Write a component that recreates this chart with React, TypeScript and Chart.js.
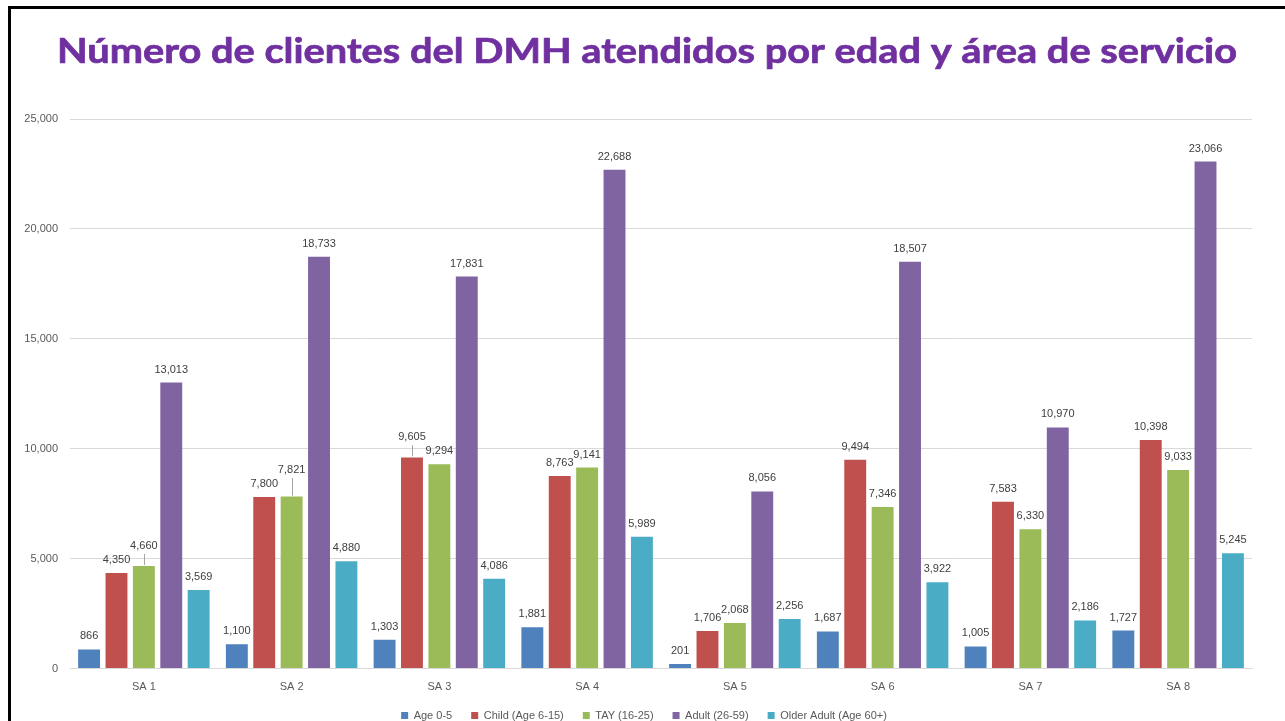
import React, { useEffect, useRef } from 'react';
import { Chart, registerables } from 'chart.js';

Chart.register(...registerables);

const TITLE = 'Número de clientes del DMH atendidos por edad y área de servicio';
const categories = ['SA 1', 'SA 2', 'SA 3', 'SA 4', 'SA 5', 'SA 6', 'SA 7', 'SA 8'];
const seriesNames = ['Age 0-5', 'Child (Age 6-15)', 'TAY (16-25)', 'Adult (26-59)', 'Older Adult (Age 60+)'];
const age0to5 = [866, 1100, 1303, 1881, 201, 1687, 1005, 1727];
const child6to15 = [4350, 7800, 9605, 8763, 1706, 9494, 7583, 10398];
const tay16to25 = [4660, 7821, 9294, 9141, 2068, 7346, 6330, 9033];
const adult26to59 = [13013, 18733, 17831, 22688, 8056, 18507, 10970, 23066];
const olderAdult60 = [3569, 4880, 4086, 5989, 2256, 3922, 2186, 5245];
const seriesColors = ['#4F81BD', '#C0504D', '#9BBB59', '#8064A2', '#4BACC6'];
const yMax = 25000;
const yStep = 5000;

const FONT = '"Liberation Sans", Arial, sans-serif';
const fmt = (v: number) => v.toLocaleString('en-US');

const titlePlugin = {
  id: 'slideTitle',
  afterDraw(chart: any) {
    const ctx = chart.ctx;
    ctx.save();
    ctx.font = `bold 35px Lato, "Open Sans", sans-serif`;
    ctx.fillStyle = '#7030A0';
    ctx.strokeStyle = '#7030A0';
    ctx.lineWidth = 0.7;
    ctx.lineJoin = 'round';
    ctx.textBaseline = 'alphabetic';
    ctx.textAlign = 'left';
    const w = ctx.measureText(TITLE).width;
    const targetW = 1180;
    const sx = targetW / w;
    ctx.translate(57, 63);
    ctx.scale(sx, 1);
    ctx.fillText(TITLE, 0, 0);
    ctx.strokeText(TITLE, 0, 0);
    ctx.restore();
  },
};

const legendShiftPlugin = {
  id: 'legendShift',
  afterLayout(chart: any) {
    if (chart.legend) {
      chart.legend.left += 24;
    }
  },
};

const labelPlugin = {
  id: 'barValueLabels',
  afterDatasetsDraw(chart: any) {
    const ctx = chart.ctx;
    ctx.save();
    ctx.font = `11px ${FONT}`;
    ctx.textAlign = 'center';
    ctx.textBaseline = 'middle';
    const n = chart.data.labels.length;
    for (let i = 0; i < n; i++) {
      const items = chart.data.datasets.map((ds: any, d: number) => {
        const el = chart.getDatasetMeta(d).data[i];
        return { x: el.x, top: el.y, y: el.y - 13, v: ds.data[i] as number, leader: false };
      });
      for (let d = 1; d < items.length; d++) {
        const a = items[d - 1];
        const b = items[d];
        if (Math.abs(a.y - b.y) < 7.5) {
          const hi = a.top < b.top ? a : b;
          const lo = hi === a ? b : a;
          hi.y = lo.y - 14;
          hi.leader = true;
        }
      }
      for (const it of items) {
        if (it.leader) {
          ctx.strokeStyle = '#a6a6a6';
          ctx.lineWidth = 1;
          ctx.beginPath();
          ctx.moveTo(Math.round(it.x) + 0.5, it.y + 8);
          ctx.lineTo(Math.round(it.x) + 0.5, it.top - 1);
          ctx.stroke();
        }
        ctx.fillStyle = '#404040';
        ctx.fillText(fmt(it.v), it.x, it.y);
      }
    }
    ctx.restore();
  },
};

export default function App() {
  const ref = useRef<HTMLCanvasElement | null>(null);

  useEffect(() => {
    if (!ref.current) return;
    const values = [age0to5, child6to15, tay16to25, adult26to59, olderAdult60];
    const chart = new Chart(ref.current, {
      type: 'bar',
      data: {
        labels: categories,
        datasets: values.map((vals, k) => ({
          label: seriesNames[k],
          data: vals,
          backgroundColor: seriesColors[k],
          borderWidth: 0,
          barPercentage: 0.8,
          categoryPercentage: 0.927,
        })),
      },
      options: {
        animation: false,
        responsive: false,
        devicePixelRatio: 1,
        layout: { padding: { left: 12, right: 33, top: 119, bottom: 0 } },
        plugins: {
          title: { display: false },
          tooltip: { enabled: false },
          legend: {
            position: 'bottom',
            labels: {
              boxWidth: 7,
              boxHeight: 7,
              padding: 19,
              color: '#595959',
              font: { family: FONT, size: 11 },
            },
          },
        },
        scales: {
          x: {
            grid: { display: false, drawTicks: false },
            border: { display: true, color: '#d9d9d9', width: 1 },
            ticks: { color: '#595959', font: { family: FONT, size: 11 }, padding: 12 },
            afterFit(scale: any) {
              scale.height = 22.5;
            },
          },
          y: {
            min: 0,
            max: yMax,
            grid: { color: '#d9d9d9', lineWidth: 1, drawTicks: false },
            border: { display: false },
            ticks: {
              stepSize: yStep,
              color: '#595959',
              font: { family: FONT, size: 11 },
              padding: 12,
              callback: (v: any) => fmt(Number(v)),
            },
            afterFit(scale: any) {
              scale.width = 58;
            },
          },
        },
      },
      plugins: [labelPlugin, titlePlugin, legendShiftPlugin],
    });
    return () => chart.destroy();
  }, []);

  return (
    <div
      style={{
        position: 'absolute',
        left: 0,
        top: 0,
        width: 1285,
        height: 721,
        overflow: 'hidden',
        background: '#ffffff',
      }}
    >
      <canvas ref={ref} width={1285} height={731} style={{ display: 'block', width: 1285, height: 731 }} />
      <div
        style={{
          position: 'absolute',
          left: 8,
          top: 6,
          width: 1285 - 8,
          height: 721,
          borderTop: '3px solid #000',
          borderLeft: '3px solid #000',
          boxSizing: 'border-box',
          pointerEvents: 'none',
        }}
      />
    </div>
  );
}
